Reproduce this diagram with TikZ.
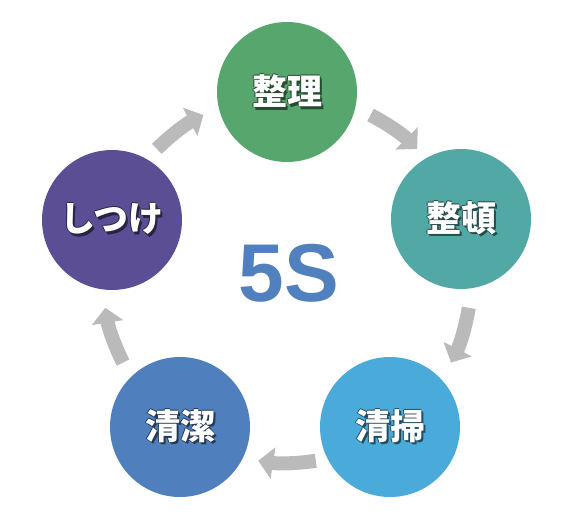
\documentclass[tikz,border=0pt]{standalone}
\usepackage{fontspec}
\newfontfamily\cjk{Noto Sans CJK JP}
\newfontfamily\latin{Liberation Sans}
\usetikzlibrary{arrows.meta}

\definecolor{seiricol}{RGB}{87,166,110}
\definecolor{seitoncol}{RGB}{82,168,164}
\definecolor{seisoucol}{RGB}{74,170,218}
\definecolor{seiketsucol}{RGB}{79,127,189}
\definecolor{shitsukecol}{RGB}{91,78,148}
\definecolor{fivecol}{RGB}{80,128,190}
\definecolor{arrowgray}{RGB}{186,186,186}

% white word with a dark edge and a drop shadow
\newcommand\castword[2]{%
  \rlap{\textcolor{#1}{\kern2.4pt\raisebox{-2.4pt}{#2}}}%
  \rlap{\textcolor{#1}{\kern1.2pt\raisebox{-1.2pt}{#2}}}%
  \rlap{\textcolor{#1}{\kern-0.8pt#2}}%
  \rlap{\textcolor{#1}{\raisebox{0.8pt}{#2}}}%
  #2}

\begin{document}
\begin{tikzpicture}
  [x=1pt,y=1pt,
   ball/.style={circle,minimum size=140pt,inner sep=0pt,text=white,
     font=\cjk\bfseries\fontsize{35}{35}\selectfont},
   cycle arrow/.style={draw=arrowgray,line width=14pt,
     -{Triangle[length=15pt,width=31pt]}}]
\useasboundingbox (0,0) rectangle (575,514);
  \node[ball,fill=seiricol]    (seiri)    at (287,422) {\castword{seiricol!45!black}{整理}};
  \node[ball,fill=seitoncol]   (seiton)   at (461,295) {\castword{seitoncol!45!black}{整頓}};
  \node[ball,fill=seisoucol]   (seisou)   at (390,87)  {\castword{seisoucol!45!black}{清掃}};
  \node[ball,fill=seiketsucol] (seiketsu) at (180,87)  {\castword{seiketsucol!45!black}{清潔}};
  \node[ball,fill=shitsukecol] (shitsuke) at (112,294) {\castword{shitsukecol!45!black}{しつけ}};

  \node[text=fivecol,font=\latin\bfseries\fontsize{82}{82}\selectfont] (fives) at (289,241) {5S};

  \coordinate (hub) at (287,235);
  \foreach \m [count=\i] in {126,54,-18,-90,-162} {
    \path (hub) ++(\m+9:184) coordinate (tail\i);
    \draw[cycle arrow] (tail\i) arc[start angle=\m+9, end angle=\m-9, radius=184];
  }
\end{tikzpicture}
\end{document}
